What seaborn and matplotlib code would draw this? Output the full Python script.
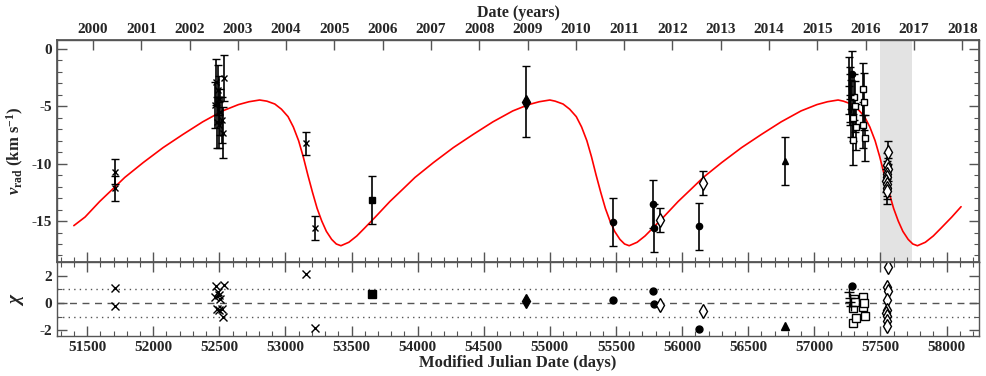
import pandas as pd
import matplotlib
matplotlib.use("Agg")
import matplotlib.pyplot as plt
from matplotlib.ticker import MultipleLocator, NullLocator
import seaborn as sns

# orbit model curve (MJD, km/s)
curve_mjd = [51400, 51485, 51595, 51695, 51785, 51925, 52075, 52225, 52375, 52525,
             52645, 52725, 52805, 52860, 52920, 52970, 53020, 53060, 53100, 53135,
             53170, 53205, 53240, 53275, 53310, 53350, 53385, 53420, 53480, 53540,
             53600, 53680, 53790, 53890, 53980, 54120, 54270, 54420, 54570, 54720,
             54840, 54920, 55000, 55040, 55100, 55150, 55200, 55240, 55280, 55315,
             55350, 55385, 55420, 55455, 55490, 55530, 55565, 55600, 55660, 55720,
             55780, 55860, 55970, 56070, 56160, 56300, 56450, 56600, 56750, 56900,
             57020, 57100, 57180, 57220, 57280, 57330, 57380, 57420, 57460, 57495,
             57530, 57565, 57600, 57635, 57670, 57710, 57745, 57780, 57840, 57900,
             57960, 58040, 58110]
curve_v = [-15.4, -14.65, -13.3, -12.2, -11.2, -9.9, -8.6, -7.45, -6.35, -5.4,
           -4.85, -4.6, -4.45, -4.55, -4.8, -5.25, -5.9, -6.8, -8.0, -9.4,
           -11.0, -12.5, -13.9, -15.0, -15.9, -16.6, -17.0, -17.15, -16.85, -16.3,
           -15.6, -14.65, -13.3, -12.2, -11.2, -9.9, -8.6, -7.45, -6.35, -5.4,
           -4.85, -4.6, -4.45, -4.55, -4.8, -5.25, -5.9, -6.8, -8.0, -9.4,
           -11.0, -12.5, -13.9, -15.0, -15.9, -16.6, -17.0, -17.15, -16.85, -16.3,
           -15.6, -14.65, -13.3, -12.2, -11.2, -9.9, -8.6, -7.45, -6.35, -5.4,
           -4.85, -4.6, -4.45, -4.55, -4.8, -5.25, -5.9, -6.8, -8.0, -9.4,
           -11.0, -12.5, -13.9, -15.0, -15.9, -16.6, -17.0, -17.15, -16.85, -16.3,
           -15.6, -14.65, -13.75]

# crosses
cross_mjd = [51710, 51713, 52470, 52478, 52484, 52490, 52495, 52500, 52505, 52520,
             52530, 52536, 53155, 53225]
cross_v = [-10.7, -12.15, -4.9, -2.85, -6.4, -3.6, -4.4, -6.6, -5.5, -6.2,
           -7.3, -2.5, -8.2, -15.6]
cross_err = [1.1, 1.1, 2.0, 2.0, 2.2, 2.2, 2.0, 2.0, 2.0, 2.0, 2.2, 2.0, 1.0, 1.05]
cross_chi = [1.1, -0.25, 0.4, 1.25, -0.45, 0.8, 0.55, -0.5, 0.3, -0.45, -1.0, 1.3, 2.1, -1.85]

# filled square
fsq_mjd = [53655]
fsq_v = [-13.2]
fsq_err = [2.1]
fsq_chi = [0.65]

# filled thin diamond
fdia_mjd = [54818]
fdia_v = [-4.6]
fdia_err = [3.1]
fdia_chi = [0.15]

# filled circles
circ_mjd = [55475, 55780, 55784, 56131, 57285]
circ_v = [-15.05, -13.5, -15.6, -15.45, -2.2]
circ_err = [2.1, 2.1, 2.1, 2.05, 2.0]
circ_chi = [0.22, 0.9, -0.07, -1.92, 1.25]

# open diamonds
odia_mjd = [55836, 56161, 57557, 57548, 57555, 57550, 57553, 57546, 57552, 57549, 57551]
odia_v = [-14.9, -11.65, -9.0, -10.1, -10.5, -10.9, -11.2, -11.5, -11.8, -12.1, -12.4]
odia_err = [1.05, 1.05, 1.0, 1.05, 1.0, 1.1, 1.0, 1.0, 1.05, 1.0, 1.1]
odia_chi = [-0.15, -0.58, 2.6, 1.2, 0.9, 0.2, -0.5, -0.75, -0.95, -1.3, -1.7]

# filled triangle
tri_mjd = [56775]
tri_v = [-9.75]
tri_err = [2.1]
tri_chi = [-1.65]

# open squares
osq_mjd = [57290, 57295, 57300, 57305, 57312, 57365, 57372, 57378, 57382]
osq_v = [-7.9, -6.0, -4.2, -5.0, -6.8, -6.6, -3.5, -4.6, -7.8]
osq_err = [2.2, 2.0, 2.0, 2.2, 2.0, 2.0, 2.3, 2.5, 2.0]
osq_chi = [-1.45, -0.4, 0.3, 0.1, -1.1, -0.3, 0.45, 0.0, -0.95]

# plus signs
plus_mjd = [57262, 57268, 57272, 57278]
plus_v = [-3.2, -4.0, -4.4, -5.2]
plus_err = [2.5, 2.4, 2.2, 2.5]
plus_chi = [0.8, 0.35, 0.1, -0.2]

years = list(range(2000, 2019))
shade_start, shade_end = 57500, 57738

sns.set_theme(style="ticks")
plt.rcParams["font.family"] = ["Liberation Serif", "DejaVu Serif"]
plt.rcParams["font.weight"] = "bold"
plt.rcParams["axes.unicode_minus"] = False
plt.rcParams["mathtext.fontset"] = "custom"
plt.rcParams["mathtext.rm"] = "Liberation Serif:bold"
plt.rcParams["mathtext.it"] = "Liberation Serif:italic:bold"
plt.rcParams["mathtext.bf"] = "Liberation Serif:bold"

spine_col = "#555555"
fig = plt.figure(figsize=(9.87, 3.76), dpi=100)
ax = fig.add_axes([0.0578, 0.3032, 0.934, 0.5904])
axr = fig.add_axes([0.0578, 0.1064, 0.934, 0.1968], sharex=ax)

ax.axvspan(shade_start, shade_end, color="#e3e3e3", lw=0, zorder=0)
sns.lineplot(x=curve_mjd, y=curve_v, color="red", lw=1.2, sort=False, ax=ax, zorder=2)

groups = [
    (cross_mjd, cross_v, cross_err, cross_chi, "x", "black", 5),
    (fsq_mjd, fsq_v, fsq_err, fsq_chi, "s", "black", 5),
    (fdia_mjd, fdia_v, fdia_err, fdia_chi, "d", "black", 7),
    (circ_mjd, circ_v, circ_err, circ_chi, "o", "black", 4.5),
    (odia_mjd, odia_v, odia_err, odia_chi, "d", "white", 7),
    (tri_mjd, tri_v, tri_err, tri_chi, "^", "black", 5),
    (osq_mjd, osq_v, osq_err, osq_chi, "s", "white", 5),
    (plus_mjd, plus_v, plus_err, plus_chi, "+", "black", 6),
]
for mjd, v, err, chi, m, fc, ms in groups:
    ax.errorbar(mjd, v, yerr=err, fmt=m, color="black", mfc=fc, mec="black",
                ms=ms, mew=1.0, capsize=3, elinewidth=1.2, capthick=1.2, zorder=3)
    axr.plot(mjd, chi, ls="none", marker=m, color="black", mfc=fc, mec="black",
             ms=ms + 0.5, mew=1.0, zorder=3)

axr.axhline(0, color="#555555", lw=1, ls=(0, (5, 4)), zorder=1)
axr.axhline(1, color="#555555", lw=1, ls=(0, (1, 3)), zorder=1)
axr.axhline(-1, color="#555555", lw=1, ls=(0, (1, 3)), zorder=1)

ax.set_xlim(51273, 58245)
ax.set_ylim(-18.57, 0.78)
axr.set_ylim(-2.41, 2.99)
ax.set_yticks([0, -5, -10, -15])
ax.yaxis.set_minor_locator(MultipleLocator(1))
ax.xaxis.set_major_locator(MultipleLocator(500))
ax.xaxis.set_minor_locator(MultipleLocator(100))
axr.set_yticks([-2, 0, 2])
axr.yaxis.set_minor_locator(MultipleLocator(1))

for a in (ax, axr):
    for s in a.spines.values():
        s.set_color(spine_col)
        s.set_linewidth(1.0)
    a.tick_params(which="both", direction="in", color=spine_col, labelsize=11,
                  left=True, right=True, bottom=True)
    a.tick_params(which="major", length=7, width=1)
    a.tick_params(which="minor", length=3.5, width=0.8)
ax.tick_params(which="both", top=False, labelbottom=False)
axr.tick_params(which="both", top=True)

year_mjd = [(pd.Timestamp(f"{y}-01-01") - pd.Timestamp("1858-11-17")).days for y in years]
ax2 = ax.twiny()
ax2.set_xlim(ax.get_xlim())
ax2.set_xticks(year_mjd)
ax2.set_xticklabels([str(y) for y in years])
ax2.xaxis.set_minor_locator(NullLocator())
ax2.tick_params(direction="in", length=7, width=1, color=spine_col, labelsize=11, pad=3)
for s in ax2.spines.values():
    s.set_color(spine_col)
ax2.set_xlabel("Date (years)", fontsize=11.5, fontweight="bold", labelpad=4)

ax.set_ylabel(r"$v_{\rm rad}$ (km s$^{-1}$)", fontsize=12, fontweight="bold", labelpad=4)
axr.set_ylabel(r"$\chi$", fontsize=14, labelpad=10)
axr.set_xlabel("Modified Julian Date (days)", fontsize=12, fontweight="bold", labelpad=1)

fig.savefig("out.png", dpi=100)
